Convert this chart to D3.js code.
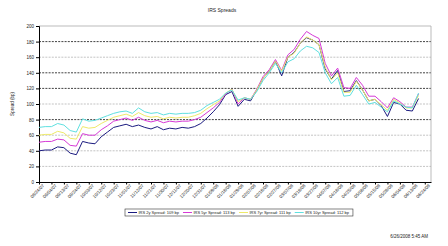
<!DOCTYPE html>
<html><head><meta charset="utf-8">
<script src="https://cdn.jsdelivr.net/npm/d3@7"></script>
<style>body{margin:0;background:#fff}svg{display:block}text{font-family:Arial,"Liberation Sans",sans-serif;fill:#222}</style>
</head><body><svg id="c" width="448" height="246"></svg>
<script>
const tickLabels = ["08/24/07","09/04/07","09/13/07","09/24/07","10/03/07","10/12/07","10/23/07","11/01/07","11/12/07","11/21/07","11/30/07","12/11/07","12/20/07","12/31/07","01/09/08","01/18/08","01/29/08","02/07/08","02/18/08","02/27/08","03/07/08","03/18/08","03/27/08","04/07/08","04/16/08","04/25/08","05/06/08","05/15/08","05/26/08","06/04/08","06/13/08","06/24/08"];
const s2y  = [40,41,41,45,44,37,35,52,50,49,58,64,70,72,74,71,73,70,68,71,67,69,68,70,69,71,75,82,90,99,112,116,97,106,104,118,133,142,155,136,160,166,178,185,182,176,145,132,143,116,117,130,118,104,106,98,84,102,100,92,91,107];
const s5y  = [51,52,52,55,54,47,46,62,60,60,67,72,78,80,82,79,83,79,77,79,76,78,77,78,78,80,83,89,95,102,113,119,100,108,106,119,135,144,157,143,163,170,183,193,188,184,152,136,146,121,120,134,124,110,110,103,95,108,103,96,96,113];
const s7y  = [60,61,61,65,63,56,55,71,69,70,75,79,83,85,87,84,89,85,83,84,81,83,82,83,83,85,88,94,99,104,114,119,103,108,106,118,133,142,155,142,160,165,178,186,182,176,147,131,140,115,115,129,118,104,106,99,92,106,101,95,95,111];
const s10y = [70,71,71,75,73,66,64,81,78,79,82,85,88,90,91,88,95,90,88,89,86,88,87,88,88,89,92,98,102,106,114,118,105,108,106,116,130,140,152,140,154,158,168,174,172,166,140,126,134,110,111,124,112,100,102,96,90,104,100,96,95,114];
const seriesNames = ["IRS 2y Spread: 109 bp","IRS 5yr Spread: 113 bp","IRS 7yr Spread: 111 bp","IRS 10yr Spread: 112 bp"];
const yTicks = [0,20,40,60,80,100,120,140,160,180,200];

const colors = ["#1b1b80","#d63ad6","#eeea6a","#5fe0e0"];
const series = [s2y,s5y,s7y,s10y];
const svg = d3.select("#c");
const L=39,R=431,T=26,B=182;
const x = d3.scaleLinear().domain([0,63]).range([L,R]);
const y = d3.scaleLinear().domain([0,200]).range([B,T]);

svg.append("text").attr("x",222).attr("y",12).attr("text-anchor","middle").attr("font-size",5).text("IRS Spreads");

// gridlines
const dark = new Set([180,140,120,80]);
svg.append("g").selectAll("line").data(yTicks.filter(d=>d>0&&d<200)).join("line")
  .attr("x1",L).attr("x2",R).attr("y1",d=>y(d)).attr("y2",d=>y(d))
  .attr("stroke",d=>dark.has(d)?"#111":"#aaa").attr("stroke-width",d=>dark.has(d)?0.8:0.7).attr("stroke-dasharray","2,1.2");
// border top/right
svg.append("path").attr("d",`M${L},${T}H${R}V${B}`).attr("fill","none").attr("stroke","#aaa").attr("stroke-width",0.8);

// y axis
const ya = svg.append("g").attr("transform",`translate(${L},0)`).call(d3.axisLeft(y).tickValues(yTicks).tickSize(3).tickPadding(2));
ya.select(".domain").attr("stroke","#000");
ya.selectAll("text").attr("font-size",4.5).style("font-family","Arial");
svg.append("text").attr("transform","translate(14,104) rotate(-90)").attr("text-anchor","middle").attr("font-size",4.5).text("Spread (bp)");

// x axis
const tickIdx = tickLabels.map((d,i)=>i*2);
const xa = svg.append("g").attr("transform",`translate(0,${B})`).call(d3.axisBottom(x).tickValues(tickIdx).tickFormat((d,i)=>tickLabels[i]).tickSize(2.5).tickSizeOuter(0));
xa.select(".domain").attr("stroke","#000");
xa.selectAll("text").attr("font-size",4.5).style("font-family","Arial").attr("text-anchor","end")
  .attr("transform","translate(2,1) rotate(-45)").attr("dy","0.3em").attr("y",3).attr("x",0);

// lines
const line = d3.line().x((d,i)=>x(i)).y(d=>y(d));
series.forEach((s,k)=>{
  svg.append("path").datum(s).attr("d",line).attr("fill","none").attr("stroke",colors[k]).attr("stroke-width",1).attr("stroke-linejoin","round");
});

// legend
const lg = svg.append("g");
let cx = 128;
seriesNames.forEach((n,k)=>{
  lg.append("line").attr("x1",cx).attr("x2",cx+9).attr("y1",212.5).attr("y2",212.5).attr("stroke",colors[k]).attr("stroke-width",1);
  const t = lg.append("text").attr("x",cx+10.5).attr("y",214).attr("font-size",4).text(n);
  cx += 10.5 + t.node().getComputedTextLength() + 4;
});
lg.insert("rect","line").attr("x",125).attr("y",209).attr("width",cx-125).attr("height",7).attr("fill","#fff").attr("stroke","#333").attr("stroke-width",0.6);

svg.append("text").attr("x",428).attr("y",238).attr("text-anchor","end").attr("font-size",4.5).text("6/26/2008  5:45 AM");
</script></body></html>
